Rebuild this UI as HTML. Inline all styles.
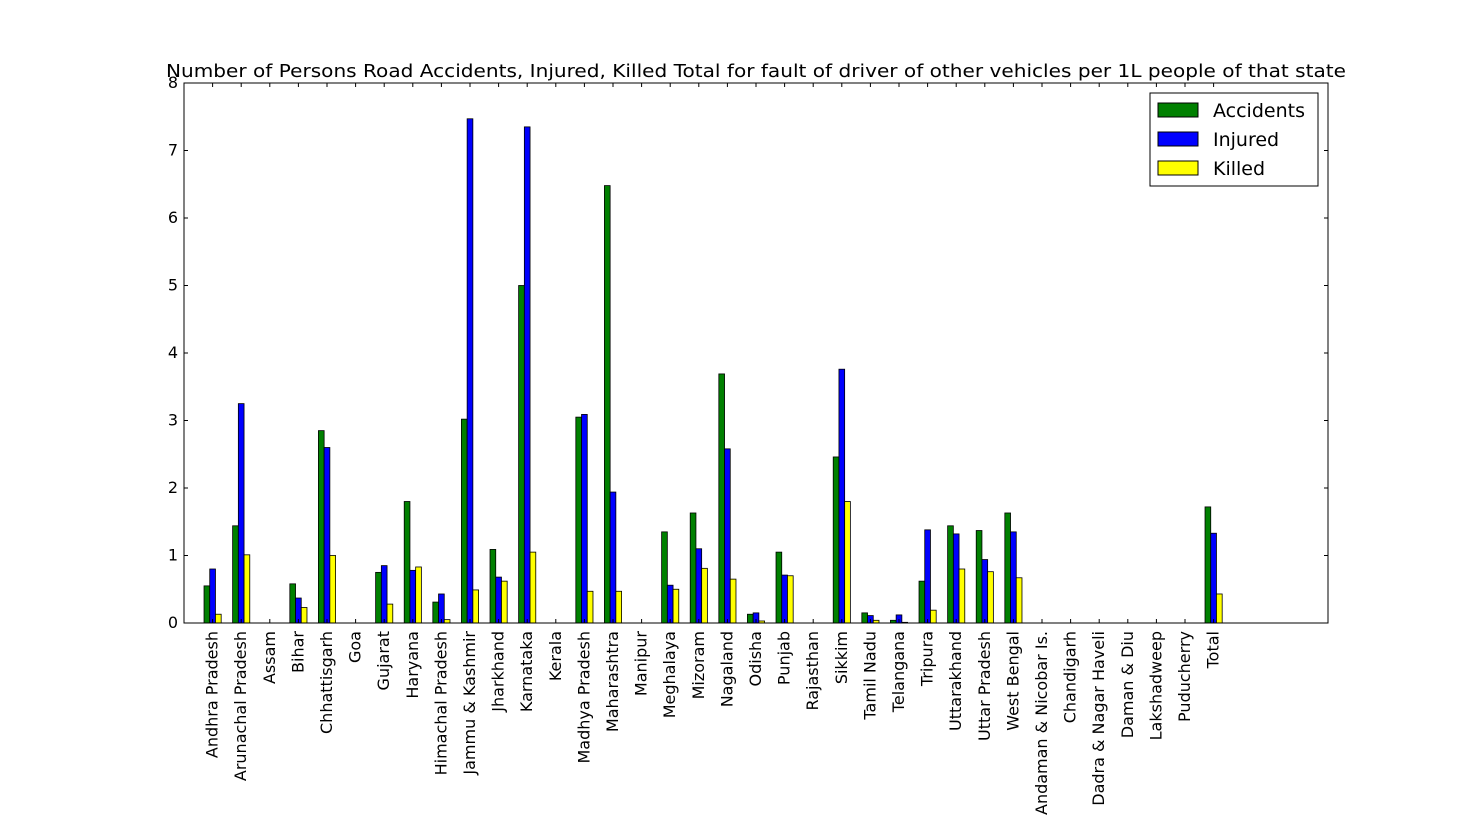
<!DOCTYPE html>
<html><head><meta charset="utf-8"><style>
body{margin:0;background:#fff;}
svg{display:block;font-family:"DejaVu Sans","Liberation Sans",sans-serif;}
</style></head><body>
<svg id="chart" width="1475" height="838"></svg>
<script>
const categories=["Andhra Pradesh","Arunachal Pradesh","Assam","Bihar","Chhattisgarh","Goa","Gujarat","Haryana","Himachal Pradesh","Jammu & Kashmir","Jharkhand","Karnataka","Kerala","Madhya Pradesh","Maharashtra","Manipur","Meghalaya","Mizoram","Nagaland","Odisha","Punjab","Rajasthan","Sikkim","Tamil Nadu","Telangana","Tripura","Uttarakhand","Uttar Pradesh","West Bengal","Andaman & Nicobar Is.","Chandigarh","Dadra & Nagar Haveli","Daman & Diu","Lakshadweep","Puducherry","Total"];
const accidents=[0.55,1.44,0,0.58,2.85,0,0.75,1.8,0.31,3.02,1.09,5.0,0,3.05,6.48,0,1.35,1.63,3.69,0.13,1.05,0,2.46,0.15,0.04,0.62,1.44,1.37,1.63,0,0,0,0,0,0,1.72];
const injured=[0.8,3.25,0,0.37,2.6,0,0.85,0.78,0.43,7.47,0.68,7.35,0,3.09,1.94,0,0.56,1.1,2.58,0.15,0.71,0,3.76,0.11,0.12,1.38,1.32,0.94,1.35,0,0,0,0,0,0,1.33];
const killed=[0.13,1.01,0,0.23,1.0,0,0.28,0.83,0.05,0.49,0.62,1.05,0,0.47,0.47,0,0.5,0.81,0.65,0.03,0.7,0,1.8,0.04,0.01,0.19,0.8,0.76,0.67,0,0,0,0,0,0,0.43];
const yTicks=[0,1,2,3,4,5,6,7,8];
const seriesNames=["Accidents","Injured","Killed"];
const NS="http://www.w3.org/2000/svg";
const svg=document.getElementById('chart');
const L=184,R=1328,T=83,B=623,XMAX=40,YMAX=8;
const xs=v=>L+(v/XMAX)*(R-L);
const ys=v=>B-(v/YMAX)*(B-T);
function mk(tag,attrs,parent){const e=document.createElementNS(NS,tag);for(const k in attrs)e.setAttribute(k,attrs[k]);(parent||svg).appendChild(e);return e;}
const series=[accidents,injured,killed];
const colors=["#008000","#0000ff","#ffff00"];
series.forEach((s,si)=>{
  s.forEach((v,i)=>{
    const x0=xs(i+0.7+si*0.2),x1=xs(i+0.9+si*0.2);
    const r=mk('rect',{x:x0,y:ys(v),width:x1-x0,height:ys(0)-ys(v),fill:colors[si],stroke:'#000','stroke-width':0.8});
    
    
  });
});
const frame=mk('rect',{x:L,y:T,width:R-L,height:B-T,fill:'none',stroke:'#000','stroke-width':1});


yTicks.forEach(t=>{
  const y=ys(t);
  mk('line',{x1:L,x2:L+4,y1:y,y2:y,stroke:'#000'});
  mk('line',{x1:R,x2:R-4,y1:y,y2:y,stroke:'#000'});
  const tx=mk('text',{x:L-6,y:y+5,'text-anchor':'end','font-size':16});
  tx.textContent=t;
  
  
});
categories.forEach((c,i)=>{
  const x=xs(i+1);
  mk('line',{x1:x,x2:x,y1:B,y2:B-4,stroke:'#000'});
  mk('line',{x1:x,x2:x,y1:T,y2:T+4,stroke:'#000'});
  const tx=mk('text',{x:0,y:0,'text-anchor':'end','font-size':16,transform:`translate(${x+5},${B+8}) rotate(-90)`});
  tx.textContent=c;
  
  
});
const title=mk('text',{x:756,y:77,'text-anchor':'middle','font-size':18,textLength:1180,lengthAdjust:'spacingAndGlyphs'});
title.textContent="Number of Persons Road Accidents, Injured, Killed Total for fault of driver of other vehicles per 1L people of that state";


const lg=mk('g',{});


mk('rect',{x:1150,y:93,width:168,height:93,fill:'#fff',stroke:'#000'},lg);
seriesNames.forEach((n,i)=>{
  const y=110+i*29;
  const sw=mk('rect',{x:1158,y:y-7,width:40,height:14,fill:colors[i],stroke:'#000'},lg);
  
  
  const t=mk('text',{x:1213,y:y+7,'font-size':19},lg);
  t.textContent=n;
  
  
});
</script>
</body></html>
